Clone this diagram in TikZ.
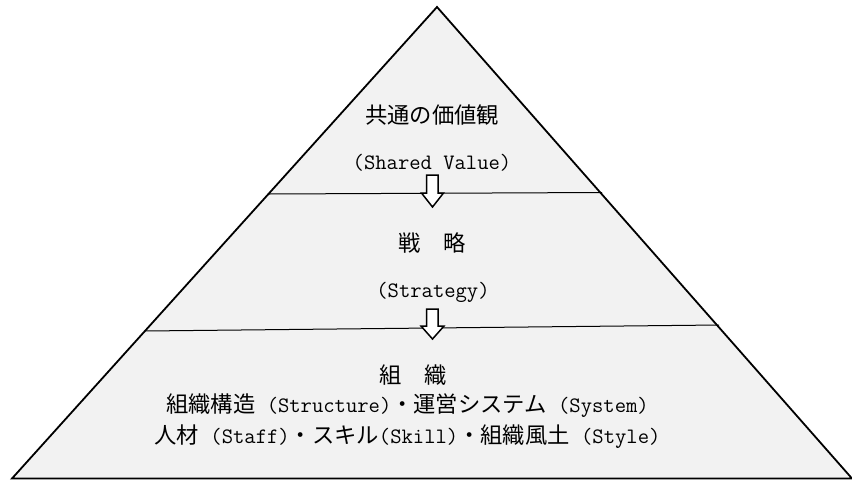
\documentclass[tikz,border=0pt]{standalone}
\usepackage{fontspec}
\newfontfamily\jp{Noto Sans CJK JP}
\newcommand\en[1]{{\fontsize{22}{31}\selectfont\ttfamily #1}}
\definecolor{pyrfill}{HTML}{F2F2F2}
\begin{document}
\begin{tikzpicture}[x=1pt,y=-1pt,
  pyr/.style={draw=black,line width=1.8pt,fill=pyrfill,line join=miter},
  sep/.style={draw=black,line width=1pt},
  blockarrow/.style={draw=black,line width=1.5pt,fill=white},
  lbl/.style={inner sep=0pt,align=center,font=\jp\fontsize{22.3}{31}\selectfont}]
\useasboundingbox (0,0) rectangle (852,480);
\coordinate (apex) at (437,7);
\coordinate (bl) at (12,478.5);
\coordinate (br) at (852,478.5);
\draw[pyr] (apex) -- (br) -- (bl) -- cycle;
\coordinate (s1l) at (269,194);
\coordinate (s1r) at (602,192.5);
\coordinate (s2l) at (145,331);
\coordinate (s2r) at (719,325);
\draw[sep] (s1l) -- (s1r);
\draw[sep] (s2l) -- (s2r);
% block arrows
\draw[blockarrow] (426.5,175) -- (438,175) -- (438,193) -- (443.5,193) -- (432.5,207)
  -- (421.5,193) -- (426.5,193) -- cycle;
\draw[blockarrow] (426.5,309) -- (438,309) -- (438,326) -- (444,326) -- (432.5,339)
  -- (421,326) -- (426.5,326) -- cycle;
% labels
\node[lbl] (t1) at (432,115) {共通の価値観};
\node[lbl] (t2) at (432,163) {\en{(Shared Value)}};
\node[lbl] (t3) at (432,243) {戦　略};
\node[lbl] (t4) at (433,292) {\en{(Strategy)}};
\node[lbl] (t5) at (413,375) {組　織};
\node[lbl] (t6) at (407.5,406) {組織構造\en{ (Structure)}・運営システム\en{ (System)}};
\node[lbl] (t7) at (407.5,437) {人材\en{ (Staff)}・スキル\en{(Skill)}・組織風土\en{ (Style)}};
\end{tikzpicture}
\end{document}
